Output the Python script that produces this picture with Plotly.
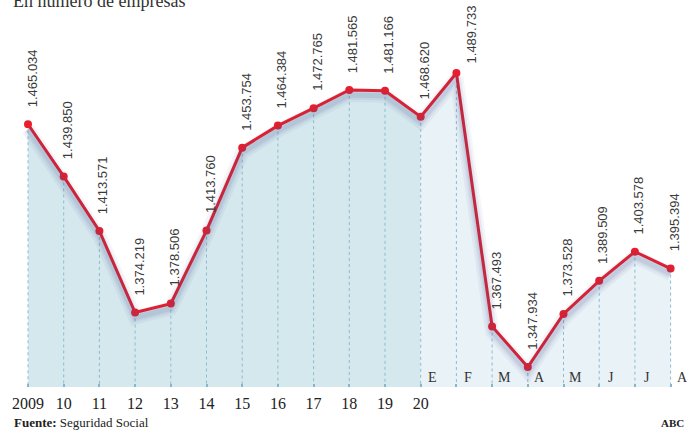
import plotly.graph_objects as go

# ---- data ----
year_labels = ["2009", "10", "11", "12", "13", "14", "15", "16", "17", "18", "19", "20"]
month_labels = ["E", "F", "M", "A", "M", "J", "J", "A"]
values = [1465034, 1439850, 1413571, 1374219, 1378506, 1413760, 1453754,
          1464384, 1472765, 1481565, 1481166,
          1468620, 1489733, 1367493, 1347934, 1373528, 1389509, 1403578, 1395394]

n = len(values)
idx = list(range(n))
n_years = len(year_labels)          # index of "20" = first month (E)
m0 = n_years - 1

W, H = 695, 430
mt, mb = 20, 43
plot_h = H - mt - mb
y0, y1 = 1338286, 1515324
px_val = (y1 - y0) / plot_h

def fmt(v):
    return f"{v:,}".replace(",", ".")

def py(p):
    # pixel row from top of figure -> paper y
    return 1 + (mt - p) / plot_h

fig = go.Figure()

# area fills
fig.add_trace(go.Scatter(x=idx[:m0 + 1], y=values[:m0 + 1], mode="lines",
                         line=dict(width=0), fill="tozeroy",
                         fillcolor="#d5e8ee", hoverinfo="skip"))
fig.add_trace(go.Scatter(x=idx[m0:], y=values[m0:], mode="lines",
                         line=dict(width=0), fill="tozeroy",
                         fillcolor="#e9f2f7", hoverinfo="skip"))

# dotted vertical lines
vx, vy = [], []
for i, v in zip(idx, values):
    vx += [i, i, None]
    vy += [v, y0, None]
fig.add_trace(go.Scatter(x=vx, y=vy, mode="lines",
                         line=dict(color="#8dbbd0", width=1, dash="dot"),
                         hoverinfo="skip"))

# shadow (on shifted axis)
for w, a in [(14, 0.06), (9, 0.08), (5, 0.10)]:
    fig.add_trace(go.Scatter(x=idx, y=values, mode="lines", yaxis="y2",
                             line=dict(color=f"rgba(70,80,140,{a})", width=w),
                             hoverinfo="skip"))

# main line
fig.add_trace(go.Scatter(x=idx, y=values, mode="lines+markers",
                         line=dict(color="#ea1d2c", width=3),
                         marker=dict(color="#ea1d2c", size=8),
                         hoverinfo="skip"))

# value labels (the highest one is set beside its point so it fits)
vmax = max(values)
for i, v in zip(idx, values):
    top = v == vmax
    fig.add_annotation(x=i, y=v, text=fmt(v), textangle=-90, showarrow=False,
                       xanchor="center", yanchor="bottom",
                       xshift=15 if top else 4, yshift=8 if top else 15,
                       font=dict(family="Liberation Sans", size=13, color="#3a3a3a"))

# month labels
for k, m in enumerate(month_labels):
    fig.add_annotation(x=m0 + k, y=y0, text=m, showarrow=False,
                       xanchor="center", yanchor="bottom", xshift=12, yshift=0,
                       font=dict(family="Liberation Serif", size=14, color="#333"))

# title (cut off at top) and footer
fig.add_annotation(xref="paper", yref="paper", x=11 / W, y=py(13),
                   text="En número de empresas", showarrow=False,
                   xanchor="left", yanchor="bottom",
                   font=dict(family="Liberation Serif", size=18, color="#333"))
fig.add_annotation(xref="paper", yref="paper", x=12 / W, y=py(423),
                   text="<b>Fuente:</b> Seguridad Social", showarrow=False,
                   xanchor="left", yanchor="middle",
                   font=dict(family="Liberation Serif", size=13, color="#222"))
fig.add_annotation(xref="paper", yref="paper", x=686 / W, y=py(423),
                   text="<b>ABC</b>", showarrow=False,
                   xanchor="right", yanchor="middle",
                   font=dict(family="Liberation Serif", size=11, color="#222"))

step = 35.7
xr = [-28 / step, (n - 1) + (W - 28 - (n - 1) * step) / step]
tick_text = year_labels + [""] * (n - n_years)

fig.update_layout(
    width=W, height=H, margin=dict(l=0, r=0, t=mt, b=mb, autoexpand=False),
    paper_bgcolor="white", plot_bgcolor="white", showlegend=False,
    xaxis=dict(range=xr, tickvals=idx, ticktext=tick_text, showgrid=False,
               zeroline=False, ticks="inside", ticklen=3, tickwidth=2,
               tickcolor="#86b6cc", showline=False, ticklabelstandoff=5,
               tickfont=dict(family="Liberation Serif", size=16, color="#222")),
    yaxis=dict(range=[y0, y1], visible=False, showgrid=False),
    yaxis2=dict(range=[y0 + 5 * px_val, y1 + 5 * px_val], overlaying="y",
                visible=False, showgrid=False),
)

fig.write_html("out.html", config={"displayModeBar": False},
               post_script="document.body.style.margin='0';")
